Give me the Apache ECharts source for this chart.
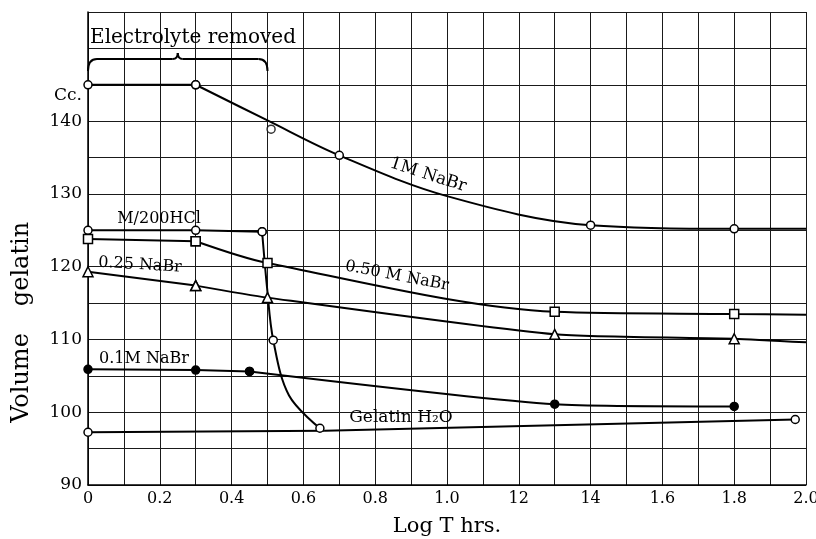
<!DOCTYPE html>
<html>
<head>
<meta charset="utf-8">
<script src="https://cdn.jsdelivr.net/npm/echarts@6/dist/echarts.min.js"></script>
<style>
html,body{margin:0;padding:0;background:#fff;}
#chart{width:816px;height:539px;}
</style>
</head>
<body>
<div id="chart"></div>
<script>
// Tick labels as printed
const xTickLabels = ['0','0.2','0.4','0.6','0.8','1.0','12','14','1.6','1.8','2.0'];
const yTickLabels = ['90','100','110','120','130','140'];

// Measured points [log T, volume]
const oneM      = [[0,145],[0.3,145],[0.7,135.3],[1.4,125.7],[1.8,125.2]];
const oneMGuide = [[0.5,140.1],[1.0,129.7],[2.0,125.2]];   // curve as drawn (no marker)
const oneMOff   = [[0.51,138.9]];                          // point off the curve
const hcl       = [[0,125.0],[0.3,125.0],[0.485,124.8],[0.516,109.9],[0.646,97.8]];
const hclGuide  = [[0.499,117.0],[0.56,102.3]];
const half      = [[0,123.8],[0.3,123.5],[0.5,120.5],[1.3,113.8],[1.8,113.5]];
const halfGuide = [[2.0,113.4]];
const quarter   = [[0,119.3],[0.3,117.4],[0.5,115.75],[1.3,110.7],[1.8,110.1]];
const quarterGuide = [[2.0,109.6]];
const tenth     = [[0,105.9],[0.3,105.8],[0.45,105.6],[1.3,101.1],[1.8,100.8]];
const tenthGuide = [];
const water     = [[0,97.25],[1.97,99.0]];
const waterGuide = [[0.66,97.45]];

const FONT = 'DejaVu Serif';

function build(pts, guide){
  const a = pts.map(p => ({value:p}));
  const b = guide.map(p => ({value:p, symbol:'none'}));
  return a.concat(b).sort((u,v)=>u.value[0]-v.value[0]);
}

function mk(name, data, symbol, size, filled, smooth){
  return {
    name, type:'line', data, smooth: smooth,
    symbol, symbolSize:size, showAllSymbol:true,
    lineStyle:{color:'#000', width:2},
    itemStyle:{color: filled ? '#000' : '#fff', borderColor:'#000', borderWidth:1.5},
    z: 3
  };
}
// straight up to breakX, smooth afterwards
function curve(name, pts, guide, symbol, size, filled, breakX, smooth){
  const all = build(pts, guide);
  const a = all.filter(d => d.value[0] <= breakX);
  const b = all.filter(d => d.value[0] >= breakX);
  return [mk(name, a, symbol, size, filled, false), mk(name, b, symbol, size, filled, smooth)];
}

const chart = echarts.init(document.getElementById('chart'), null, {renderer:'canvas'});

const option = {
  animation:false,
  backgroundColor:'#fff',
  grid:{left:88, right:10, top:12, bottom:54, show:false, containLabel:false, outerBoundsMode:'none'},
  xAxis:{
    type:'value', min:0, max:2, interval:0.1,
    axisLine:{show:true, onZero:false, lineStyle:{color:'#000', width:1.5}},
    axisTick:{show:false},
    splitLine:{show:true, lineStyle:{color:'#1a1a1a', width:1}},
    axisLabel:{
      color:'#000', fontFamily:FONT, fontSize:16, margin:6,
      formatter: v => { const k = Math.round(v*10); return k%2 ? '' : xTickLabels[k/2]; }
    }
  },
  yAxis:{
    type:'value', min:90, max:155, interval:5,
    axisLine:{show:true, lineStyle:{color:'#000', width:1.5}},
    axisTick:{show:false},
    splitLine:{show:true, lineStyle:{color:'#1a1a1a', width:1}},
    axisLabel:{
      color:'#000', fontFamily:FONT, fontSize:17, margin:6,
      formatter: v => { const i = Math.round((v-90)/10); return (v%10===0 && i < yTickLabels.length) ? yTickLabels[i] : ''; }
    }
  },
  series:[].concat(
    curve('1M NaBr', oneM, oneMGuide, 'circle', 8, false, 0.3, 0.35),
    [{name:'1M NaBr (off)', type:'scatter', data: oneMOff, symbol:'circle', symbolSize:8,
      itemStyle:{color:'#fff', borderColor:'#000', borderWidth:1.5}, z:4}],
    curve('M/200 HCl', hcl, hclGuide, 'circle', 8, false, 0.485, 0.35),
    curve('0.50 M NaBr', half, halfGuide, 'rect', 9, false, 0.3, 0.3),
    curve('0.25 NaBr', quarter, quarterGuide, 'triangle', 10, false, 0.3, 0.2),
    curve('0.1M NaBr', tenth, tenthGuide, 'circle', 8, true, 0.45, 0.2),
    curve('Gelatin H2O', water, waterGuide, 'circle', 8, false, 0.66, 0.2)
  )
};
chart.setOption(option);

// Annotations
const x0 = chart.convertToPixel({gridIndex:0},[0,150])[0];
const x1 = chart.convertToPixel({gridIndex:0},[0.5,150])[0];
const xm = chart.convertToPixel({gridIndex:0},[1.0,150])[0];
const xc = (x0+x1)/2;
const by = 59, bot = 71;
const stroke = {stroke:'#000', lineWidth:2, fill:null};

function txt(t, x, y, size, rot){
  return {type:'text', x, y, rotation: rot||0, z:10,
    style:{text:t, fill:'#000', font:`${size}px "${FONT}"`, align:'center', verticalAlign:'middle'}};
}

chart.setOption({
  graphic:[
    {type:'bezierCurve', z:10, style:stroke, shape:{x1:x0, y1:bot, x2:x0+9, y2:by, cpx1:x0, cpy1:by}},
    {type:'line', z:10, style:stroke, shape:{x1:x0+9, y1:by, x2:xc-5, y2:by}},
    {type:'bezierCurve', z:10, style:stroke, shape:{x1:xc-5, y1:by, x2:xc, y2:by-6, cpx1:xc, cpy1:by}},
    {type:'bezierCurve', z:10, style:stroke, shape:{x1:xc, y1:by-6, x2:xc+5, y2:by, cpx1:xc, cpy1:by}},
    {type:'line', z:10, style:stroke, shape:{x1:xc+5, y1:by, x2:x1-9, y2:by}},
    {type:'bezierCurve', z:10, style:stroke, shape:{x1:x1-9, y1:by, x2:x1, y2:bot, cpx1:x1, cpy1:by}},
    txt('Electrolyte removed', 193, 38, 20),
    txt('Cc.', 68, 96, 17),
    txt('gelatin', 22, 264, 24, Math.PI/2),
    txt('Volume', 22, 378, 24, Math.PI/2),
    txt('Log T hrs.', xm, 527, 21),
    txt('1M NaBr', 428, 175, 17, -0.31),
    txt('M/200HCl', 159, 219, 16),
    txt('0.50 M NaBr', 397, 276, 16, -0.19),
    txt('0.25 NaBr', 140, 265, 16, -0.06),
    txt('0.1M NaBr', 144, 359, 16),
    txt('Gelatin H₂O', 401, 418, 17)
  ]
});
</script>
</body>
</html>
